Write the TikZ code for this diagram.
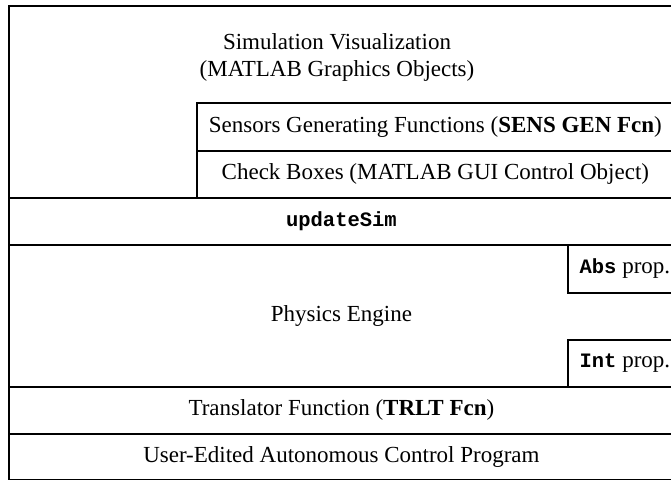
\documentclass[tikz,border=0pt]{standalone}
\usepackage{fontspec}
\setmainfont{Liberation Serif}
\setmonofont[Scale=0.89]{Liberation Mono}
\begin{document}
\begin{tikzpicture}[x=1pt,y=-1pt,
  layer/.style={draw=black, line width=1.8pt, rectangle, anchor=north west, inner sep=0pt, font=\fontsize{23}{27}\selectfont},
  lbl/.style={font=\fontsize{23}{27}\selectfont, inner sep=0pt, align=center}]
\useasboundingbox (0,0) rectangle (671,479);
\clip (0,0) rectangle (671,479);
\node[layer, minimum width=665pt, minimum height=192pt] (sim) at (8,5) {};
\node[lbl] (simtxt) at (337,57) {Simulation Visualization\\(MATLAB Graphics Objects)};
\node[layer, minimum width=477pt, minimum height=48pt] (sens) at (196,102) {Sensors Generating Functions (\textbf{SENS GEN Fcn})};
\node[layer, minimum width=477pt, minimum height=47pt] (check) at (196,150) {Check Boxes (MATLAB GUI Control Object)};
\node[layer, minimum width=665pt, minimum height=47pt] (upd) at (8,197) {\texttt{\textbf{updateSim}}};
\node[layer, minimum width=665pt, minimum height=142pt] (phys) at (8,244) {Physics Engine};
\node[layer, minimum width=114pt, minimum height=48pt] (abs) at (567,244) {\texttt{\textbf{Abs}} prop.};
\node[layer, minimum width=114pt, minimum height=47pt] (int) at (567,339) {\texttt{\textbf{Int}} prop.};
\node[layer, minimum width=665pt, minimum height=47pt] (trlt) at (8,386) {Translator Function (\textbf{TRLT Fcn})};
\node[layer, minimum width=665pt, minimum height=46pt] (user) at (8,433) {User-Edited Autonomous Control Program};
\end{tikzpicture}
\end{document}
